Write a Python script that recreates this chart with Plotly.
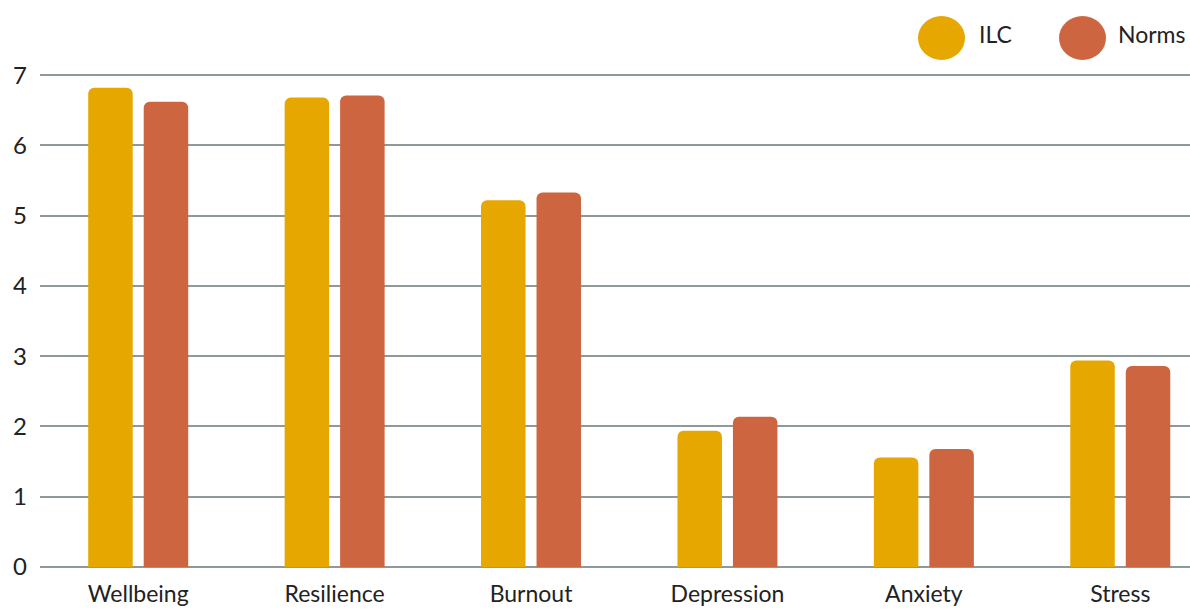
import plotly.graph_objects as go

# Scores per measure
categories = ["Wellbeing", "Resilience", "Burnout", "Depression", "Anxiety", "Stress"]
ilc_scores = [6.82, 6.68, 5.22, 1.94, 1.56, 2.94]
norm_scores = [6.62, 6.71, 5.33, 2.14, 1.68, 2.86]
y_ticks = [0, 1, 2, 3, 4, 5, 6, 7]

ILC_COLOR = "#E6A800"
NORM_COLOR = "#CD6640"
GRID_COLOR = "#8E999B"
FONT = "Lato"

W, H = 1190, 610
M_L, M_R, M_T, M_B = 40, 0, 40, 43
PW, PH = W - M_L - M_R, H - M_T - M_B

fig = go.Figure()
fig.add_trace(go.Bar(x=categories, y=ilc_scores, name="ILC",
                     marker=dict(color=ILC_COLOR, cornerradius=6, line=dict(width=0))))
fig.add_trace(go.Bar(x=categories, y=norm_scores, name="Norms",
                     marker=dict(color=NORM_COLOR, cornerradius=6, line=dict(width=0))))


def px_x(x):
    return (x - M_L) / PW


def px_y(y):
    return (H - M_B - y) / PH


# Legend drawn as large dots with labels in the top-right corner
legend_items = [("ILC", ILC_COLOR, 918, 977), ("Norms", NORM_COLOR, 1059, 1116)]
shapes = []
annotations = []
for label, color, cx0, tx in legend_items:
    shapes.append(dict(type="circle", xref="paper", yref="paper",
                       x0=px_x(cx0), x1=px_x(cx0 + 47), y0=px_y(60), y1=px_y(16),
                       fillcolor=color, line=dict(width=0), layer="above"))
    annotations.append(dict(text=label, xref="paper", yref="paper",
                            x=px_x(tx), y=px_y(34), xanchor="left", yanchor="middle",
                            showarrow=False, font=dict(family=FONT, size=23, color="#222222")))

fig.update_layout(
    width=W, height=H,
    margin=dict(l=M_L, r=M_R, t=M_T, b=M_B, pad=0),
    paper_bgcolor="white", plot_bgcolor="white",
    barmode="group", bargap=0.435, bargroupgap=0.198,
    showlegend=False,
    shapes=shapes, annotations=annotations,
    font=dict(family=FONT, color="#222222"),
)
fig.update_xaxes(
    range=[-0.5, 5.355], showgrid=False, zeroline=False, showline=False,
    ticks="", tickfont=dict(family=FONT, size=23, color="#222222"),
    ticklabelstandoff=11, automargin=False,
)
fig.update_yaxes(
    range=[0, 7.5], tickvals=y_ticks, showgrid=True, gridcolor=GRID_COLOR, gridwidth=2,
    zeroline=True, zerolinecolor=GRID_COLOR, zerolinewidth=2, showline=False,
    ticks="", tickfont=dict(family=FONT, size=24, color="#222222"),
    ticklabelstandoff=12, automargin=False,
)

fig.write_html("out.html")
